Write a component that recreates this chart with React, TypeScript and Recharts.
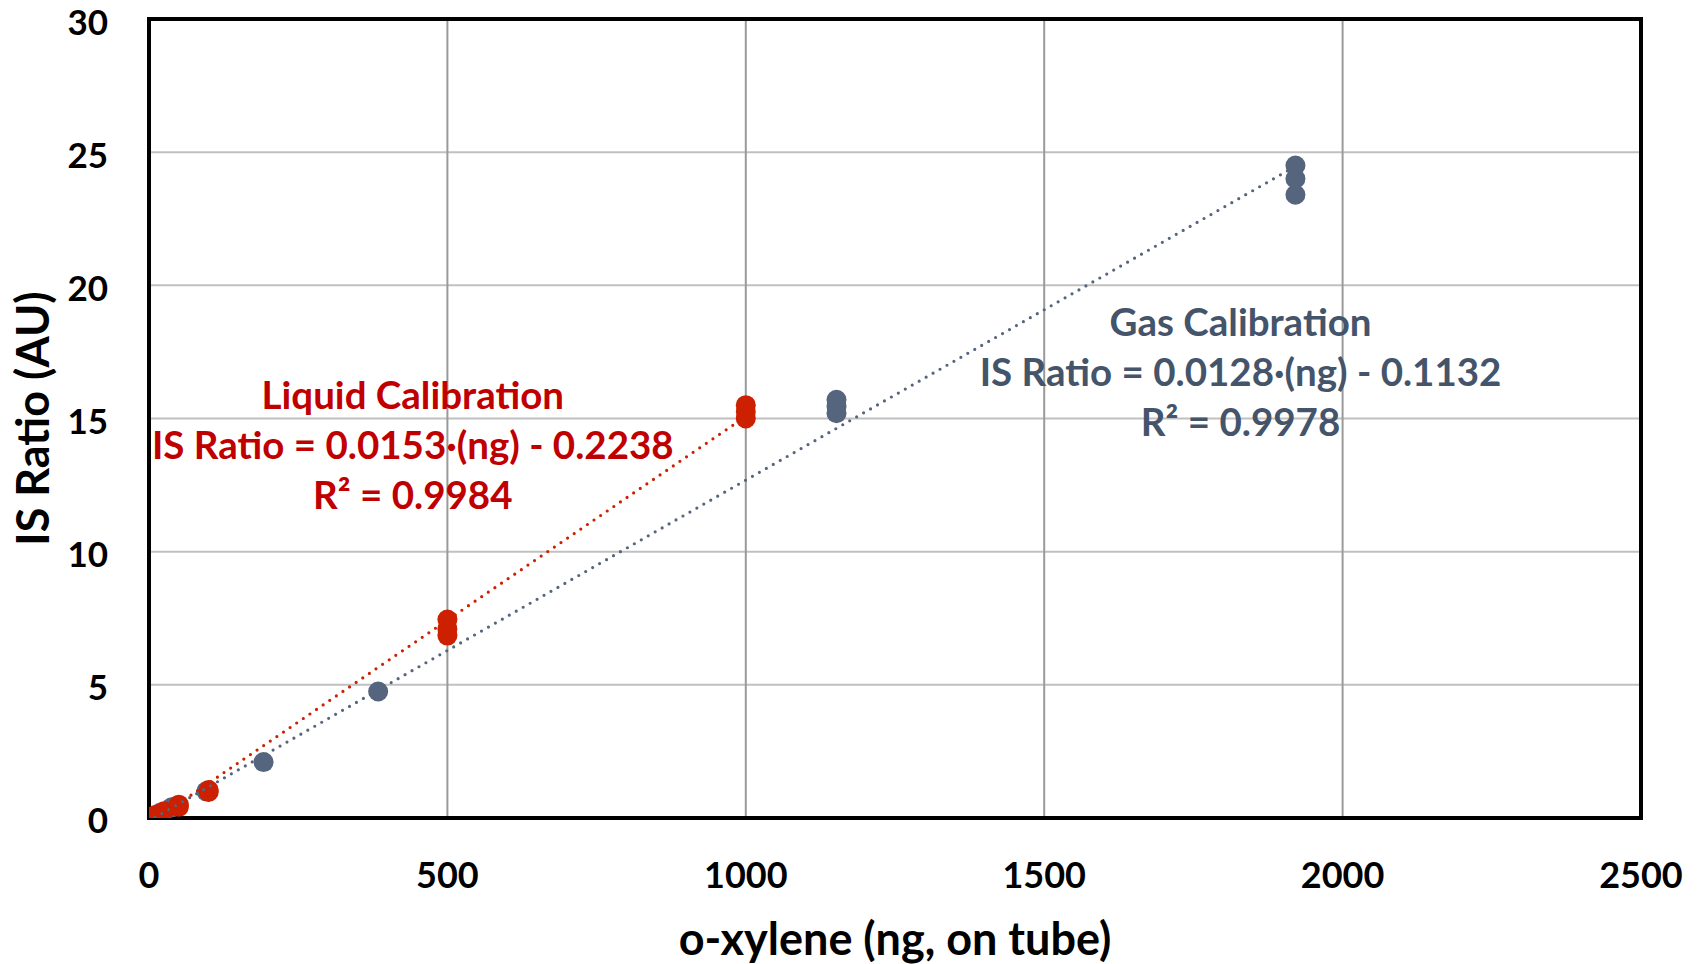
import React from "react";
import {
  ScatterChart, Scatter, XAxis, YAxis, CartesianGrid, ReferenceArea, ReferenceDot, Label,
} from "recharts";

const xTicks = [0, 500, 1000, 1500, 2000, 2500];
const yTicks = [0, 5, 10, 15, 20, 25, 30];

// liquid calibration points (ng on tube, IS ratio)
const liquidX = [5, 10, 25, 50, 50, 100, 100, 500, 500, 500, 1000, 1000, 1000];
const liquidY = [0.05, 0.1, 0.25, 0.42, 0.5, 0.98, 1.05, 6.85, 7.1, 7.45, 15.0, 15.25, 15.5];

// gas calibration points
const gasX = [19, 38, 96, 192, 384, 1152, 1152, 1152, 1921, 1921, 1921];
const gasY = [0.2, 0.4, 1.0, 2.1, 4.75, 15.2, 15.45, 15.7, 23.4, 24.0, 24.5];

// trendline end points
const liquidTrendX = [15, 1000];
const liquidTrendY = [0.01, 15.08];
const gasTrendX = [10, 1921];
const gasTrendY = [0.02, 24.47];

const liquidText = ["Liquid Calibration", "IS Ratio = 0.0153·(ng) - 0.2238", "R² = 0.9984"];
const gasText = ["Gas Calibration", "IS Ratio = 0.0128·(ng) - 0.1132", "R² = 0.9978"];

const zip = (xs: number[], ys: number[]) => xs.map((x, i) => ({ x, y: ys[i] }));

const RED = "#CC2000";
const RED_TEXT = "#C00000";
const GRAY = "#56657E";
const GRAY_TEXT = "#44546A";
const FONT = "Lato, 'Open Sans', sans-serif";

const dot = (color: string) => (p: any) => (
  <circle cx={p.cx} cy={p.cy} r={10} fill={color} />
);

const noDot = () => <g />;

const textBlock = (lines: string[], color: string) => (props: any) => {
  const vb = props.viewBox || {};
  const cx = vb.cx ?? vb.x;
  const cy = vb.cy ?? vb.y;
  return (
    <g>
      {lines.map((t, i) => (
        <text key={i} x={cx} y={cy + (i - 1) * 50} textAnchor="middle" dominantBaseline="central"
          fontFamily={FONT} fontWeight={700} fontSize={38.5} fill={color}>{t}</text>
      ))}
    </g>
  );
};

export default function App() {
  const trendStyle = (color: string) => ({
    stroke: color, strokeWidth: 3.2, strokeDasharray: "0 8", strokeLinecap: "round" as const,
  });
  return (
    <div style={{ position: "absolute", left: 0, top: 0, background: "#fff" }}>
      <ScatterChart width={1698} height={964} margin={{ top: 19, right: 57, left: 0, bottom: 0 }}>
        <CartesianGrid stroke="#c0c0c0" strokeWidth={2} vertical={false} />
        <CartesianGrid stroke="#9a9a9a" strokeWidth={2} horizontal={false} />
        <XAxis
          type="number" dataKey="x" domain={[0, 2500]} ticks={xTicks} height={146}
          axisLine={false} tickLine={false} tickSize={0} tickMargin={44}
          tick={{ fontSize: 36, fontWeight: 700, fill: "#000", fontFamily: FONT }}
          allowDataOverflow
        >
          <Label
            content={(p: any) => (
              <text x={p.viewBox.x + p.viewBox.width / 2} y={938} textAnchor="middle" dominantBaseline="central"
                fontFamily={FONT} fontWeight={700} fontSize={45} fill="#000">o-xylene (ng, on tube)</text>
            )}
          />
        </XAxis>
        <YAxis
          type="number" dataKey="y" domain={[0, 30]} ticks={yTicks} width={149}
          axisLine={false} tickLine={false} tickSize={0} tickMargin={41}
          tick={{ fontSize: 35, fontWeight: 700, fill: "#000", fontFamily: FONT, dy: 3 }}
          allowDataOverflow
        >
          <Label
            content={(p: any) => {
              const cy = p.viewBox.y + p.viewBox.height / 2;
              return (
                <text x={32} y={cy} transform={`rotate(-90, 32, ${cy})`} textAnchor="middle" dominantBaseline="central"
                  fontFamily={FONT} fontWeight={700} fontSize={45} fill="#000">IS Ratio (AU)</text>
              );
            }}
          />
        </YAxis>
        <ReferenceArea x1={0} x2={2500} y1={0} y2={30} fill="none" stroke="#000" strokeWidth={4} ifOverflow="visible" />
        <Scatter data={zip(gasX, gasY)} shape={dot(GRAY)} isAnimationActive={false} />
        <Scatter data={zip(liquidX, liquidY)} shape={dot(RED)} isAnimationActive={false} />
        <Scatter data={zip(gasTrendX, gasTrendY)} line={trendStyle(GRAY)} shape={noDot} isAnimationActive={false} />
        <Scatter data={zip(liquidTrendX, liquidTrendY)} line={trendStyle(RED)} shape={noDot} isAnimationActive={false} />
        <ReferenceDot x={442} y={14.04} r={0} fill="none" stroke="none" label={textBlock(liquidText, RED_TEXT)} />
        <ReferenceDot x={1829} y={16.79} r={0} fill="none" stroke="none" label={textBlock(gasText, GRAY_TEXT)} />
      </ScatterChart>
    </div>
  );
}
